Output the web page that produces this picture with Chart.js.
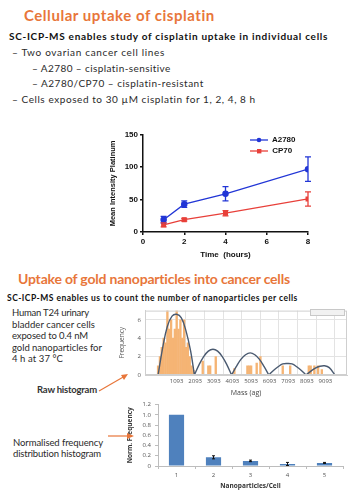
<!DOCTYPE html>
<html>
<head>
<meta charset="utf-8">
<script src="https://cdn.jsdelivr.net/npm/chart.js@4.4.1/dist/chart.umd.min.js"></script>
<style>
  body { margin: 0; width: 362px; height: 500px; background: #fff; position: relative; overflow: hidden; font-family: 'Lato', 'DejaVu Sans', sans-serif; }
  .t { position: absolute; white-space: nowrap; line-height: 1; }
  .orange { color: #e8763a; font-weight: bold; }
  .bold { font-weight: bold; color: #111; }
  .body { color: #2a2a2a; }
  canvas { position: absolute; }
  .leg { position: absolute; font: bold 8px 'Liberation Sans', Arial, sans-serif; color: #111; white-space: nowrap; }
</style>
</head>
<body>

<div class="t orange" style="left:24px;top:8px;font-size:15px" data-w="191">Cellular uptake of cisplatin</div>
<div class="t bold" style="left:9px;top:31px;font-size:10px" data-w="319">SC-ICP-MS enables study of cisplatin uptake in individual cells</div>
<div class="t body" style="left:12px;top:47px;font-size:10px" data-w="153">– Two ovarian cancer cell lines</div>
<div class="t body" style="left:32px;top:63px;font-size:10px" data-w="139">– A2780 – cisplatin-sensitive</div>
<div class="t body" style="left:32px;top:78px;font-size:10px" data-w="172">– A2780/CP70 – cisplatin-resistant</div>
<div class="t body" style="left:12px;top:94px;font-size:10px" data-w="244">– Cells exposed to 30 µM cisplatin for 1, 2, 4, 8 h</div>

<canvas id="uptake" style="left:108px;top:128px" width="215" height="132"></canvas>
<div class="leg" style="left:250px;top:135px"><svg width="20" height="8" style="vertical-align:middle"><line x1="0" y1="4" x2="18" y2="4" stroke="#2236d6" stroke-width="1.3"/><circle cx="9" cy="4" r="2.3" fill="#2236d6"/></svg> A2780</div>
<div class="leg" style="left:250px;top:146px"><svg width="20" height="8" style="vertical-align:middle"><line x1="0" y1="4" x2="18" y2="4" stroke="#e8403a" stroke-width="1.3"/><rect x="7" y="2" width="4.4" height="4.4" fill="#e8403a"/></svg> CP70</div>

<div class="t orange" style="left:18px;top:272px;font-size:14px" data-w="272">Uptake of gold nanoparticles into cancer cells</div>
<div class="t bold" style="left:7px;top:294px;font-size:8.5px" data-w="291">SC-ICP-MS enables us to count the number of nanoparticles per cells</div>
<div class="t body" style="left:12px;top:308px;font-size:9.5px" data-w="77">Human T24 urinary</div>
<div class="t body" style="left:12px;top:320px;font-size:9.5px" data-w="83">bladder cancer cells</div>
<div class="t body" style="left:12px;top:331px;font-size:9.5px" data-w="76">exposed to 0.4 nM</div>
<div class="t body" style="left:12px;top:343px;font-size:9.5px" data-w="90">gold nanoparticles for</div>
<div class="t body" style="left:12px;top:354px;font-size:9.5px" data-w="51">4 h at 37 °C</div>

<canvas id="hist" style="left:118px;top:303px" width="232" height="94"></canvas>
<div style="position:absolute;left:310px;top:309px;width:33px;height:5px;border:1px solid #c8c8c8;background:#f1f1f1"></div>

<div class="t body" style="left:37px;top:385px;font-size:9.5px;font-weight:bold;color:#333" data-w="60">Raw histogram</div>
<div class="t body" style="left:13px;top:438px;font-size:9.5px" data-w="90">Normalised frequency</div>
<div class="t body" style="left:13px;top:449px;font-size:9.5px" data-w="88">distribution histogram</div>

<canvas id="norm" style="left:126px;top:397px" width="220" height="93"></canvas>

<svg width="362" height="500" style="position:absolute;left:0;top:0;pointer-events:none">
  <g stroke="#e8763a" stroke-width="1.2" fill="#e8763a">
    <line x1="99" y1="391" x2="125" y2="376"/>
    <polygon points="128,374 121,375 124,380" stroke="none"/>
    <line x1="108" y1="436" x2="129" y2="436"/>
    <polygon points="134,436 127,433 127,439" stroke="none"/>
  </g>
</svg>

<script>
// cisplatin uptake (mean intensity Pt vs time)
const hours = [1, 2, 4, 8]
const a2780 = [19, 43, 59, 97]
const a2780Err = [5, 5, 11, 19]
const cp70 = [11, 19, 29, 51]
const cp70Err = [3, 2, 4, 11]

// raw histogram of gold nanoparticle mass
const histMass = [100, 200, 300, 400, 500, 600, 700, 800, 900, 1000, 1100, 1200, 1300, 1400, 1500, 1600, 1700, 1800, 1900, 2000,
  2500, 2800, 2900, 3200, 4200, 4900, 5000, 5100, 5400, 5600, 6800, 7200, 8200, 8300, 8500, 8700, 8900]
const histCount = [1, 2, 3, 4, 3.5, 7, 5, 6, 4, 5, 7, 5, 6, 4, 6, 3, 3.5, 2, 1, 0.5,
  1.5, 1, 1, 2, 0.7, 1, 1, 1, 1.3, 2, 1, 1, 1, 1, 1, 1, 0.6]
const massTicks = [1093, 2093, 3093, 4093, 5093, 6093, 7093, 8093, 9093]

// fitted curve, null = break between peaks
const curveMass = [100, 350, 600, 850, 1100, 1350, 1600, 1850, 2050, 2050,
  2050, 2300, 2550, 2800, 3050, 3300, 3550, 3800, 4050, 4050,
  4050, 4300, 4550, 4800, 5050, 5300, 5550, 5800, 6050, 6050,
  6050, 6300, 6550, 6800, 7050, 7300, 7550, 7800, 8050, 8050,
  8050, 8300, 8550, 8800, 9050, 9300, 9600]
const curveFit = [0, 3.0, 5.3, 6.4, 6.6, 6.2, 4.8, 2.6, 0, null,
  0, 1.1, 2.0, 2.6, 2.8, 2.6, 2.0, 1.1, 0, null,
  0, 0.9, 1.7, 2.2, 2.4, 2.2, 1.7, 0.9, 0, null,
  0, 0.5, 0.9, 1.2, 1.25, 1.2, 0.9, 0.5, 0, null,
  0, 0.4, 0.75, 0.95, 1.0, 0.8, 0]

// normalised frequency per cell
const npPerCell = ['1', '2', '3', '4', '5']
const normFreq = [1.0, 0.17, 0.10, 0.04, 0.06]
const normErr = [0, 0.03, 0.015, 0.03, 0.01]

// fit text widths to the slide
document.querySelectorAll('[data-w]').forEach(el => {
  const target = +el.dataset.w
  const w = el.getBoundingClientRect().width
  const n = el.textContent.length
  el.style.letterSpacing = ((target - w) / n).toFixed(2) + 'px'
})

const errorBars = {
  id: 'errorBars',
  afterDatasetsDraw(chart, args, opts) {
    const ctx = chart.ctx
    const ys = chart.scales.y
    chart.data.datasets.forEach((ds, i) => {
      if (!ds.errors) return
      const meta = chart.getDatasetMeta(i)
      ctx.save()
      ctx.strokeStyle = ds.errorColor || ds.borderColor
      ctx.lineWidth = opts.width || 1.2
      meta.data.forEach((el, j) => {
        const d = ds.data[j]
        const v = typeof d === 'object' ? d.y : d
        const e = ds.errors[j]
        if (!e) return
        const top = ys.getPixelForValue(v + e)
        const bot = ys.getPixelForValue(v - e)
        ctx.beginPath()
        ctx.moveTo(el.x, top)
        ctx.lineTo(el.x, bot)
        ctx.moveTo(el.x - opts.cap, top)
        ctx.lineTo(el.x + opts.cap, top)
        ctx.moveTo(el.x - opts.cap, bot)
        ctx.lineTo(el.x + opts.cap, bot)
        ctx.stroke()
      })
      ctx.restore()
    })
  }
}

const frame = {
  id: 'frame',
  afterDraw(chart, args, opts) {
    if (!opts.color) return
    const a = chart.chartArea
    const ctx = chart.ctx
    ctx.save()
    ctx.strokeStyle = opts.color
    ctx.lineWidth = 1
    ctx.strokeRect(a.left + 0.5, a.top + 0.5, a.right - a.left - 1, a.bottom - a.top - 1)
    ctx.restore()
  }
}

const fixWidth = w => scale => { scale.width = w }
const fixHeight = h => scale => { scale.height = h }

new Chart(document.getElementById('uptake'), {
  type: 'line',
  data: {
    datasets: [
      {
        label: 'A2780',
        data: hours.map((h, i) => ({ x: h, y: a2780[i] })),
        errors: a2780Err,
        borderColor: '#2236d6',
        backgroundColor: '#2236d6',
        borderWidth: 1.3,
        pointStyle: 'circle',
        pointRadius: 2.6
      },
      {
        label: 'CP70',
        data: hours.map((h, i) => ({ x: h, y: cp70[i] })),
        errors: cp70Err,
        borderColor: '#e8403a',
        backgroundColor: '#e8403a',
        borderWidth: 1.3,
        pointStyle: 'rect',
        pointRadius: 2.6
      }
    ]
  },
  options: {
    responsive: false,
    animation: false,
    layout: { padding: { top: 6, right: 15 } },
    plugins: { legend: { display: false }, tooltip: { enabled: false }, errorBars: { cap: 3, width: 1.3 } },
    scales: {
      x: {
        type: 'linear', min: 0, max: 8,
        afterFit: fixHeight(28),
        border: { color: '#111', width: 1.5 },
        grid: { drawOnChartArea: false, color: '#111', tickLength: 3, lineWidth: 1.5 },
        ticks: { stepSize: 2, padding: 2, color: '#111', font: { family: 'Liberation Sans', size: 8, weight: 'bold' } },
        title: { display: true, text: 'Time  (hours)', color: '#111', padding: 0, font: { family: 'Liberation Sans', size: 8, weight: 'bold' } }
      },
      y: {
        min: 0, max: 150,
        afterFit: fixWidth(35),
        border: { color: '#111', width: 1.5 },
        grid: { drawOnChartArea: false, color: '#111', tickLength: 3, lineWidth: 1.5 },
        ticks: { stepSize: 50, padding: 2, color: '#111', font: { family: 'Liberation Sans', size: 8, weight: 'bold' } },
        title: { display: true, text: 'Mean Intensity Platinum', color: '#111', padding: 0, font: { family: 'Liberation Sans', size: 7.5, weight: 'bold' } }
      }
    }
  },
  plugins: [errorBars]
})

new Chart(document.getElementById('hist'), {
  type: 'bar',
  data: {
    datasets: [
      {
        type: 'line',
        data: curveMass.map((m, i) => ({ x: m, y: curveFit[i] })),
        borderColor: '#4a5a70',
        borderWidth: 1.4,
        pointRadius: 0,
        tension: 0.4,
        spanGaps: false,
        order: 0
      },
      {
        data: histMass.map((m, i) => ({ x: m, y: histCount[i] })),
        backgroundColor: '#f5b474',
        barThickness: 1.7,
        order: 1
      }
    ]
  },
  options: {
    responsive: false,
    animation: false,
    layout: { padding: { top: 5, right: 3 } },
    plugins: { legend: { display: false }, tooltip: { enabled: false }, frame: { color: '#cfcfcf' } },
    scales: {
      x: {
        type: 'linear', min: 0, max: 9650,
        afterFit: fixHeight(22),
        afterBuildTicks: scale => { scale.ticks = massTicks.map(v => ({ value: v })) },
        border: { color: '#cfcfcf' },
        grid: { color: '#e3e3e3', tickLength: 0 },
        ticks: { autoSkip: false, maxRotation: 0, padding: 3, color: '#555', font: { family: 'Open Sans', size: 6 }, callback: v => String(v) },
        title: { display: true, text: 'Mass (ag)', color: '#444', padding: 0, font: { family: 'Open Sans', size: 7 } }
      },
      y: {
        min: 0, max: 7,
        afterFit: fixWidth(27),
        border: { color: '#cfcfcf' },
        grid: { color: '#e3e3e3', tickLength: 0 },
        ticks: { stepSize: 1, padding: 4, color: '#555', font: { family: 'Open Sans', size: 6 } },
        title: { display: true, text: 'Frequency', color: '#555', padding: 0, font: { family: 'Open Sans', size: 6.5 } }
      }
    }
  },
  plugins: [frame]
})

new Chart(document.getElementById('norm'), {
  type: 'bar',
  data: {
    labels: npPerCell,
    datasets: [{
      data: normFreq,
      errors: normErr,
      errorColor: '#111',
      backgroundColor: '#4f81bd',
      categoryPercentage: 1,
      barPercentage: 0.41
    }]
  },
  options: {
    responsive: false,
    animation: false,
    layout: { padding: { top: 5, right: 3 } },
    plugins: { legend: { display: false }, tooltip: { enabled: false }, errorBars: { cap: 1.5, width: 1 } },
    scales: {
      x: {
        afterFit: fixHeight(24),
        border: { color: '#bdbdbd' },
        grid: { drawOnChartArea: false, color: '#bdbdbd', tickLength: 3 },
        ticks: { padding: 3, color: '#555', font: { family: 'Open Sans', size: 6 } },
        title: { display: true, text: 'Nanoparticles/Cell', color: '#333', padding: 0, font: { family: 'Open Sans', size: 6.5, weight: 'bold' } }
      },
      y: {
        min: 0, max: 1.2,
        afterFit: fixWidth(32),
        border: { color: '#bdbdbd' },
        grid: { drawOnChartArea: false, color: '#bdbdbd', tickLength: 3 },
        ticks: { stepSize: 0.2, padding: 4, color: '#555', font: { family: 'Open Sans', size: 6 } },
        title: { display: true, text: 'Norm. Frequency', color: '#333', padding: 0, font: { family: 'Open Sans', size: 6.5, weight: 'bold' } }
      }
    }
  },
  plugins: [errorBars]
})
</script>
</body>
</html>
